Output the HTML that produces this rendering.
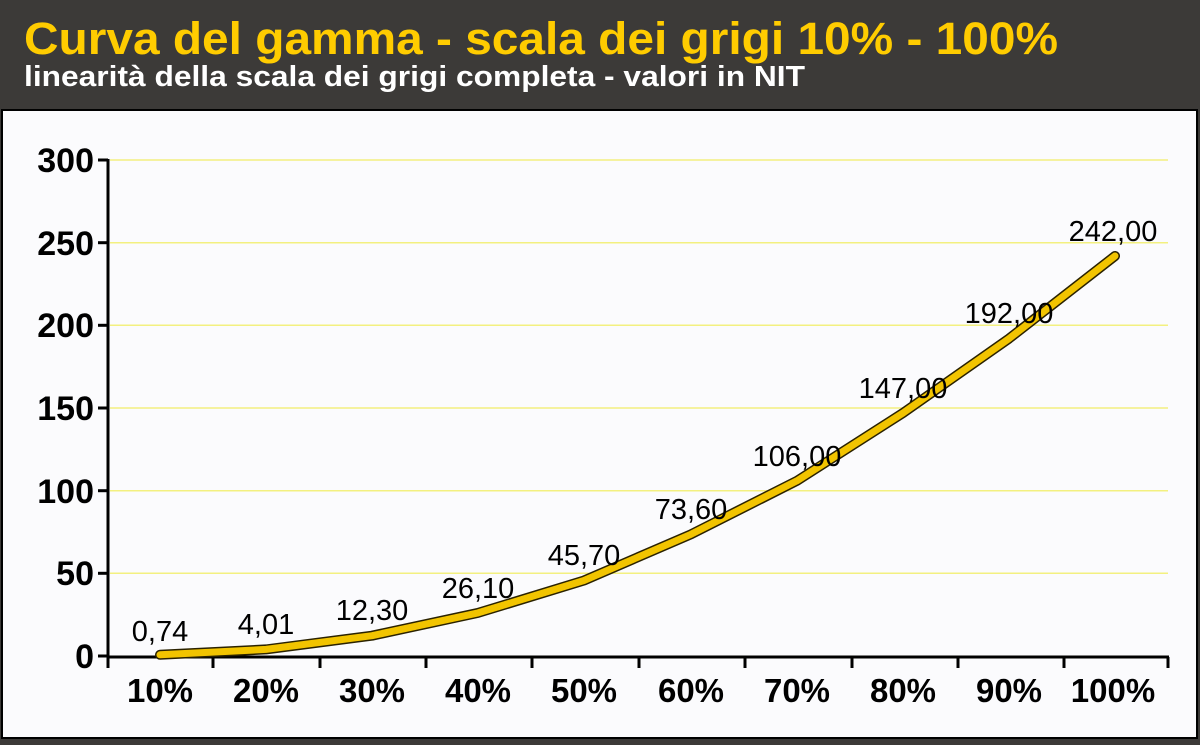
<!DOCTYPE html>
<html><head><meta charset="utf-8"><style>
body{margin:0;width:1200px;height:740px;overflow:hidden;background:#3c3a38;font-family:"Liberation Sans",sans-serif}
</style></head><body>
<svg width="1200" height="740" xmlns="http://www.w3.org/2000/svg" font-family="Liberation Sans, sans-serif">
<rect width="1200" height="740" fill="#3c3a38"/>
<text x="24" y="54" font-size="45" font-weight="bold" fill="#ffcc00" textLength="1034" lengthAdjust="spacingAndGlyphs">Curva del gamma - scala dei grigi 10% - 100%</text>
<text x="24" y="86" font-size="29" font-weight="bold" fill="#ffffff" textLength="781" lengthAdjust="spacingAndGlyphs">linearità della scala dei grigi completa - valori in NIT</text>
<rect x="1" y="109" width="1197" height="630" fill="#000"/>
<rect x="3" y="111" width="1193" height="626" fill="#fbfbfd"/>
<g stroke="#f3f080" stroke-width="1.5">
<line x1="110" y1="160" x2="1168" y2="160"/><line x1="110" y1="242.7" x2="1168" y2="242.7"/>
<line x1="110" y1="325.3" x2="1168" y2="325.3"/><line x1="110" y1="408" x2="1168" y2="408"/>
<line x1="110" y1="490.7" x2="1168" y2="490.7"/><line x1="110" y1="573.3" x2="1168" y2="573.3"/>
</g>
<g stroke="#000" stroke-width="3">
<line x1="108" y1="159" x2="108" y2="668"/><line x1="107" y1="657" x2="1169" y2="657"/>
<line x1="98" y1="160" x2="108" y2="160"/><line x1="98" y1="242.7" x2="108" y2="242.7"/>
<line x1="98" y1="325.3" x2="108" y2="325.3"/><line x1="98" y1="408" x2="108" y2="408"/>
<line x1="98" y1="490.7" x2="108" y2="490.7"/><line x1="98" y1="573.3" x2="108" y2="573.3"/>
<line x1="98" y1="656" x2="108" y2="656"/>
<line x1="213" y1="657" x2="213" y2="668"/><line x1="320" y1="657" x2="320" y2="668"/>
<line x1="426" y1="657" x2="426" y2="668"/><line x1="532" y1="657" x2="532" y2="668"/>
<line x1="639" y1="657" x2="639" y2="668"/><line x1="745" y1="657" x2="745" y2="668"/>
<line x1="852" y1="657" x2="852" y2="668"/><line x1="958" y1="657" x2="958" y2="668"/>
<line x1="1064" y1="657" x2="1064" y2="668"/><line x1="1168" y1="657" x2="1168" y2="668"/>
</g>
<g font-size="34" font-weight="bold" text-anchor="end" fill="#000">
<text x="94" y="172">300</text><text x="94" y="255">250</text><text x="94" y="337">200</text>
<text x="94" y="420">150</text><text x="94" y="503">100</text><text x="94" y="585">50</text><text x="94" y="668">0</text>
</g>
<g font-size="33" font-weight="bold" text-anchor="middle" fill="#000">
<text x="160" y="702">10%</text><text x="266" y="702">20%</text><text x="372" y="702">30%</text>
<text x="478" y="702">40%</text><text x="584" y="702">50%</text><text x="691" y="702">60%</text>
<text x="797" y="702">70%</text><text x="903" y="702">80%</text><text x="1009" y="702">90%</text><text x="1113" y="702">100%</text>
</g>
<path d="M160,654.8 L266,649.4 L372,635.7 L478,612.9 L584,580.5 L691,534.3 L797,480.8 L903,413 L1009,338.6 L1115,256" fill="none" stroke="#2a2200" stroke-width="10" stroke-linecap="round" stroke-linejoin="round"/>
<path d="M160,654.8 L266,649.4 L372,635.7 L478,612.9 L584,580.5 L691,534.3 L797,480.8 L903,413 L1009,338.6 L1115,256" fill="none" stroke="#f2c400" stroke-width="7" stroke-linecap="round" stroke-linejoin="round"/>
<g font-size="29" text-anchor="middle" fill="#000">
<text x="160" y="641">0,74</text><text x="266" y="634">4,01</text><text x="372" y="620">12,30</text>
<text x="478" y="598">26,10</text><text x="584" y="565">45,70</text><text x="691" y="519">73,60</text>
<text x="797" y="466">106,00</text><text x="903" y="398">147,00</text><text x="1009" y="323">192,00</text><text x="1113" y="241">242,00</text>
</g>
</svg>
</body></html>
